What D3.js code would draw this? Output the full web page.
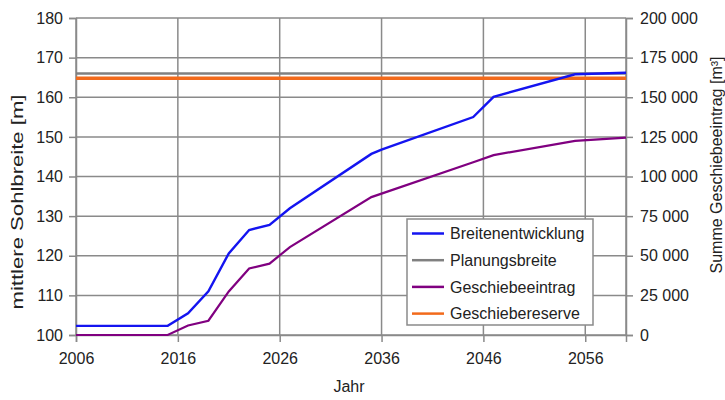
<!DOCTYPE html>
<html><head><meta charset="utf-8">
<script src="https://cdn.jsdelivr.net/npm/d3@7/dist/d3.min.js"></script>
<style>body{margin:0;background:#fff}svg{display:block;font-family:Arial,"Liberation Sans",sans-serif}</style>
</head><body>
<svg id="c" width="725" height="400"></svg>
<script>
const breitenYears = [2006, 2015, 2017, 2019, 2021, 2023, 2025, 2027, 2035, 2036, 2045, 2047, 2055, 2060];
const breitenValues = [102.3, 102.3, 105.5, 111, 120.6, 126.5, 127.8, 132, 145.7, 146.8, 155, 160.1, 165.8, 166.2];
const eintragYears = [2006, 2015, 2017, 2019, 2021, 2023, 2025, 2027, 2035, 2045, 2047, 2055, 2060];
const eintragValues = [0, 0, 6000, 9000, 27500, 42000, 45000, 55500, 87000, 109000, 113500, 122500, 124500];
const planungsbreite = 166;
const geschiebereserve = 162000;
const xTicks = [2006, 2016, 2026, 2036, 2046, 2056];
const yLeftTicks = [100, 110, 120, 130, 140, 150, 160, 170, 180];
const yRightTicks = [0, 25000, 50000, 75000, 100000, 125000, 150000, 175000, 200000];
const legendLabels = ["Breitenentwicklung", "Planungsbreite", "Geschiebeeintrag", "Geschiebereserve"];
const colors = ["#1414f0", "#808080", "#800080", "#f26a1b"];

const svg = d3.select("#c");
const L = 76, R = 626, T = 18, B = 335;
const x = d3.scaleLinear().domain([2006, 2060]).range([L, R]);
const yL = d3.scaleLinear().domain([100, 180]).range([B, T]);
const yR = d3.scaleLinear().domain([0, 200000]).range([B, T]);
const gridColor = "#8a8a8a";

// grid
const g = svg.append("g");
g.selectAll(".hg").data(yLeftTicks).enter().append("line")
  .attr("x1", L).attr("x2", R).attr("y1", d => yL(d)).attr("y2", d => yL(d))
  .attr("stroke", gridColor).attr("stroke-width", 1.5);
g.selectAll(".vg").data(xTicks.concat([2060])).enter().append("line")
  .attr("y1", T).attr("y2", B).attr("x1", d => x(d)).attr("x2", d => x(d))
  .attr("stroke", gridColor).attr("stroke-width", 1.5);

// axes
const fmtR = d => d3.format(",")(d).replace(/,/g, " ");
const axL = svg.append("g").attr("transform", `translate(${L},0)`)
  .call(d3.axisLeft(yL).tickValues(yLeftTicks).tickSize(7).tickPadding(6));
const axR = svg.append("g").attr("transform", `translate(${R},0)`)
  .call(d3.axisRight(yR).tickValues(yRightTicks).tickSize(7).tickPadding(7).tickFormat(fmtR));
const axB = svg.append("g").attr("transform", `translate(0,${B})`)
  .call(d3.axisBottom(x).tickValues(xTicks).tickSize(7).tickPadding(11).tickFormat(d3.format("d")));
[axL, axR, axB].forEach(a => {
  a.select(".domain").attr("stroke", gridColor).attr("stroke-width", 1.5);
  a.selectAll(".tick line").attr("stroke", gridColor).attr("stroke-width", 1.5);
  a.selectAll("text").attr("font-size", 16).attr("fill", "#222").attr("font-family", "Arial, 'Liberation Sans', sans-serif");
});

// lines
const lineL = d3.line().x(d => x(d[0])).y(d => yL(d[1]));
const lineR = d3.line().x(d => x(d[0])).y(d => yR(d[1]));
svg.append("path").datum([[2006, planungsbreite], [2060, planungsbreite]]).attr("d", lineL)
  .attr("fill", "none").attr("stroke", colors[1]).attr("stroke-width", 2.5);
svg.append("path").datum([[2006, geschiebereserve], [2060, geschiebereserve]]).attr("d", lineR)
  .attr("fill", "none").attr("stroke", colors[3]).attr("stroke-width", 3.5);
svg.append("path").datum(eintragYears.map((y, i) => [y, eintragValues[i]])).attr("d", lineR)
  .attr("fill", "none").attr("stroke", colors[2]).attr("stroke-width", 2.2);
svg.append("path").datum(breitenYears.map((y, i) => [y, breitenValues[i]])).attr("d", lineL)
  .attr("fill", "none").attr("stroke", colors[0]).attr("stroke-width", 2.4);

// titles
svg.append("text").attr("transform", "translate(23,202) rotate(-90)").attr("text-anchor", "middle")
  .attr("font-size", 16).attr("fill", "#222")
  .attr("textLength", 215).attr("lengthAdjust", "spacingAndGlyphs")
  .text("mittlere Sohlbreite [m]");
svg.append("text").attr("transform", "translate(722,165) rotate(-90)").attr("text-anchor", "middle")
  .attr("font-size", 16).attr("fill", "#222").text("Summe Geschiebeeintrag [m³]");
svg.append("text").attr("x", 349).attr("y", 392).attr("text-anchor", "middle")
  .attr("font-size", 16).attr("fill", "#222").text("Jahr");

// legend
const lg = svg.append("g");
lg.append("rect").attr("x", 407).attr("y", 219).attr("width", 186).attr("height", 106)
  .attr("fill", "#fff").attr("stroke", "#8a8a8a").attr("stroke-width", 1.5);
legendLabels.forEach((lab, i) => {
  const yy = 233.5 + i * 26.7;
  lg.append("line").attr("x1", 412).attr("x2", 444).attr("y1", yy).attr("y2", yy)
    .attr("stroke", colors[i]).attr("stroke-width", 2.5);
  lg.append("text").attr("x", 450).attr("y", yy).attr("dy", "0.35em")
    .attr("font-size", 16).attr("fill", "#222").text(lab);
});
</script>
</body></html>
